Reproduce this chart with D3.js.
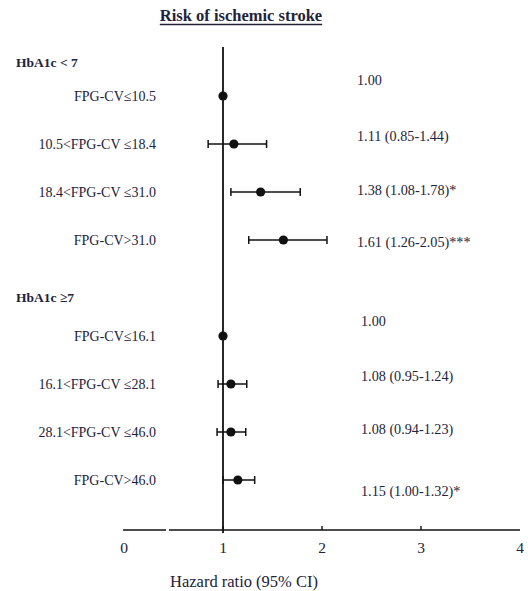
<!DOCTYPE html>
<html>
<head>
<meta charset="utf-8">
<script src="https://cdn.jsdelivr.net/npm/d3@7"></script>
<style>
  html, body { margin: 0; padding: 0; background: #fff; }
  svg { display: block; }
  text { font-family: "Liberation Serif", "Times New Roman", serif; fill: #22223a; }
</style>
</head>
<body>
<script>
// Subgroups and their FPG-CV strata
const groups = ["HbA1c < 7", "HbA1c \u22657"];
const groupOf = [0, 0, 0, 0, 1, 1, 1, 1];
const categories = [
  "FPG-CV\u226410.5",
  "10.5<FPG-CV \u226418.4",
  "18.4<FPG-CV \u226431.0",
  "FPG-CV>31.0",
  "FPG-CV\u226416.1",
  "16.1<FPG-CV \u226428.1",
  "28.1<FPG-CV \u226446.0",
  "FPG-CV>46.0"
];
// Hazard ratios with 95% confidence limits (null = reference category)
const hr    = [1.00, 1.11, 1.38, 1.61, 1.00, 1.08, 1.08, 1.15];
const lower = [null, 0.85, 1.08, 1.26, null, 0.95, 0.94, 1.00];
const upper = [null, 1.44, 1.78, 2.05, null, 1.24, 1.23, 1.32];
const stars = ["", "", "*", "***", "", "", "", "*"];
const xTicks = [0, 1, 2, 3, 4];

const W = 528, H = 591;
const svg = d3.select("body").append("svg").attr("width", W).attr("height", H);

const x = d3.scaleLinear().domain([0, 4]).range([124, 520]);
// row slot: a blank slot separates the two subgroups
const slot = (i) => i + groupOf[i];
const y = d3.scaleLinear().domain([0, 8]).range([96, 480]);
const axisY = 530;

// title
const title = svg.append("text")
  .attr("x", 241).attr("y", 21)
  .attr("text-anchor", "middle")
  .attr("font-size", 16.5).attr("font-weight", "bold")
  .text("Risk of ischemic stroke");
const tb = title.node().getBBox();
svg.append("line")
  .attr("x1", tb.x).attr("x2", tb.x + tb.width)
  .attr("y1", 24.5).attr("y2", 24.5)
  .attr("stroke", "#22223a").attr("stroke-width", 1.3);

// group headers
const headerSlots = [-0.7, 4.18];
svg.selectAll("text.group").data(groups).join("text")
  .attr("class", "group")
  .attr("x", 16)
  .attr("y", (d, i) => y(headerSlots[i]) + 5)
  .attr("font-size", 13.5).attr("font-weight", "bold")
  .text(d => d);

// row labels
svg.selectAll("text.cat").data(categories).join("text")
  .attr("class", "cat")
  .attr("x", 156)
  .attr("y", (d, i) => y(slot(i)) + 5)
  .attr("text-anchor", "end")
  .attr("font-size", 14)
  .text(d => d);

// reference line at HR = 1
svg.append("line")
  .attr("x1", x(1)).attr("x2", x(1))
  .attr("y1", 47).attr("y2", axisY + 3)
  .attr("stroke", "#111").attr("stroke-width", 1.8);

// x axis, with a short break near the origin
const axisG = svg.append("g").attr("transform", `translate(0,${axisY})`);
axisG.append("line").attr("x1", x(0) - 1).attr("x2", 166)
  .attr("stroke", "#111").attr("stroke-width", 1.6);
axisG.append("line").attr("x1", 169).attr("x2", x(4))
  .attr("stroke", "#111").attr("stroke-width", 1.6);
axisG.selectAll("line.tick").data(xTicks.slice(1, 4)).join("line")
  .attr("class", "tick")
  .attr("x1", d => x(d)).attr("x2", d => x(d))
  .attr("y1", -4).attr("y2", 0)
  .attr("stroke", "#111").attr("stroke-width", 1.4);
axisG.selectAll("text.tl").data(xTicks).join("text")
  .attr("class", "tl")
  .attr("x", d => x(d))
  .attr("y", 23)
  .attr("text-anchor", "middle")
  .attr("font-size", 15.5)
  .text(d => d);
svg.append("text")
  .attr("x", 244).attr("y", 587)
  .attr("text-anchor", "middle")
  .attr("font-size", 16.5)
  .text("Hazard ratio (95% CI)");

// confidence intervals
const rows = d3.range(categories.length);
const ci = rows.filter(i => lower[i] !== null);
const capH = 4;
const g = svg.append("g").attr("stroke", "#111").attr("stroke-width", 1.5);
g.selectAll("line.ci").data(ci).join("line")
  .attr("x1", i => x(lower[i])).attr("x2", i => x(upper[i]))
  .attr("y1", i => y(slot(i))).attr("y2", i => y(slot(i)));
g.selectAll("line.capL").data(ci).join("line")
  .attr("x1", i => x(lower[i])).attr("x2", i => x(lower[i]))
  .attr("y1", i => y(slot(i)) - capH).attr("y2", i => y(slot(i)) + capH);
g.selectAll("line.capU").data(ci).join("line")
  .attr("x1", i => x(upper[i])).attr("x2", i => x(upper[i]))
  .attr("y1", i => y(slot(i)) - capH).attr("y2", i => y(slot(i)) + capH);

// point estimates
svg.selectAll("circle.pt").data(rows).join("circle")
  .attr("cx", i => x(hr[i])).attr("cy", i => y(slot(i)))
  .attr("r", 4.6).attr("fill", "#111");

// estimate text, nudged vertically within each row
const labelNudge = [-16, -8, -2, 2, -15, -8, -3, 11];
const labelX = [357, 361];
const fmt = d3.format(".2f");
svg.selectAll("text.est").data(rows).join("text")
  .attr("class", "est")
  .attr("x", i => labelX[groupOf[i]])
  .attr("y", i => y(slot(i)) + labelNudge[i] + 5)
  .attr("font-size", 14.2)
  .text(i => lower[i] === null
    ? fmt(hr[i])
    : `${fmt(hr[i])} (${fmt(lower[i])}-${fmt(upper[i])})${stars[i]}`);
</script>
</body>
</html>
